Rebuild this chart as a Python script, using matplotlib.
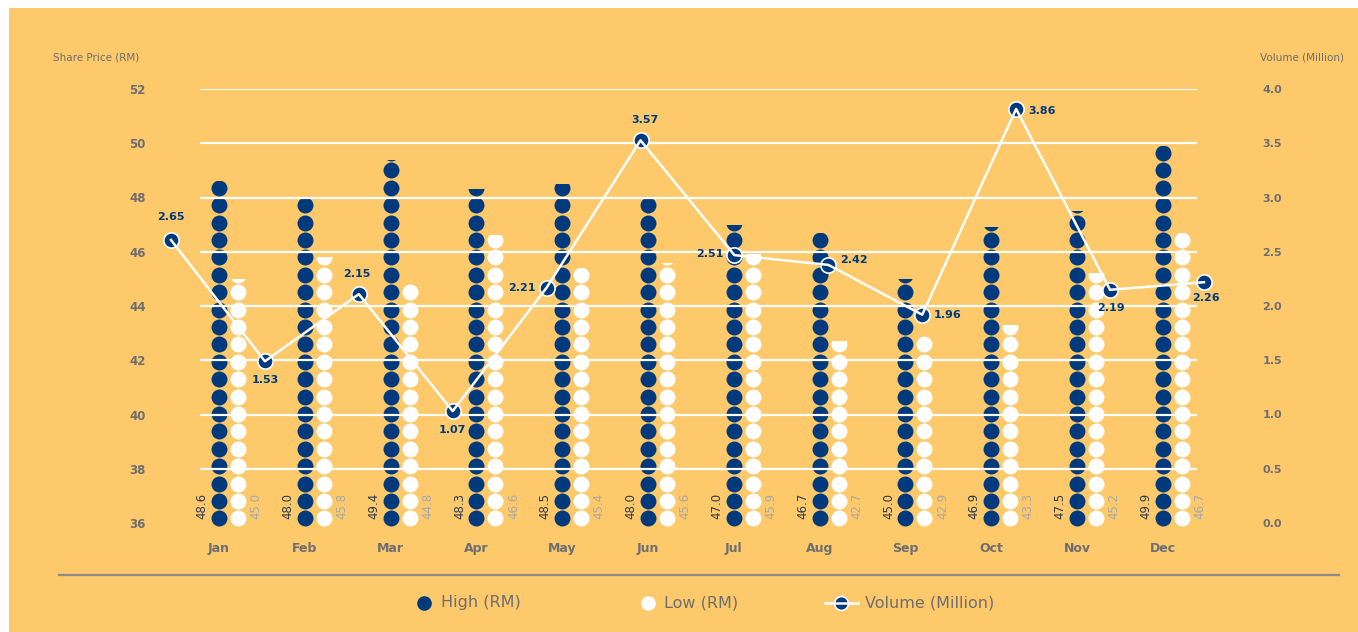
import numpy as np
import matplotlib
matplotlib.use("Agg")
import matplotlib.pyplot as plt
from matplotlib.patches import Rectangle

months = ["Jan", "Feb", "Mar", "Apr", "May", "Jun",
          "Jul", "Aug", "Sep", "Oct", "Nov", "Dec"]
high = [48.6, 48.0, 49.4, 48.3, 48.5, 48.0, 47.0, 46.7, 45.0, 46.9, 47.5, 49.9]
low = [45.0, 45.8, 44.8, 46.6, 45.4, 45.6, 45.9, 42.7, 42.9, 43.3, 45.2, 46.7]
volume = [2.65, 1.53, 2.15, 1.07, 2.21, 3.57, 2.51, 2.42, 1.96, 3.86, 2.19, 2.26]

# where each volume label sits relative to its marker (pixels, y up)
vol_offsets = [(0, 23), (0, -19), (-2, 20), (0, -19), (-25, 0), (4, 20),
               (-25, 1), (26, 5), (25, 0), (26, -2), (1, -18), (2, -16)]

BG = "#FDC96B"
NAVY = "#003A7D"
GRAY = "#6D6E71"
LIGHT = "#A8A8A8"
DARK = "#2E3A4C"

W, H = 1358, 632
fig = plt.figure(figsize=(W / 100, H / 100), dpi=100, facecolor="white")


def px_rect(l, t, r, b):
    return [l / W, 1 - b / H, (r - l) / W, (b - t) / H]


# background panel, separator and legend
bg = fig.add_axes([0, 0, 1, 1], zorder=-1)
bg.set_xlim(0, W)
bg.set_ylim(H, 0)
bg.axis("off")
bg.add_patch(Rectangle((9, 8), W - 9, H - 8, color=BG, lw=0))
bg.plot([59, 1339], [575, 575], color="#8C8C8C", lw=1.6)

bg.plot(424, 603, "o", ms=9.5, color=NAVY)
bg.text(441, 603, "High (RM)", va="center", fontsize=11.5, color=GRAY)
bg.plot(648, 603, "o", ms=9.5, color="white")
bg.text(664, 603, "Low (RM)", va="center", fontsize=11.5, color=GRAY)
bg.plot([825, 858], [603, 603], color="white", lw=1.8, zorder=3)
bg.plot(841, 603, "o", ms=10, mfc=NAVY, mec="white", mew=1.2, zorder=2)
bg.text(865, 603, "Volume (Million)", va="center", fontsize=11.5, color=GRAY)

# share price pictograph
ax = fig.add_axes(px_rect(200, 89, 1197, 523))
ax.patch.set_alpha(0)
for s in ax.spines.values():
    s.set_visible(False)
ax.set_ylim(36, 52)
ax.set_xlim(-0.332, 11.288)

yt = np.arange(36, 53, 2)
ax.set_yticks(yt, [str(v) for v in yt], fontweight="bold")
ax.tick_params(axis="y", length=0, pad=39, labelsize=8.5, labelcolor=GRAY)
ax.hlines(yt[1:], *ax.get_xlim(), colors="white", lw=1.6, zorder=3)

x = np.arange(len(months))
d = 0.111
ax.set_xticks(x - d, months, fontweight="bold")
ax.tick_params(axis="x", length=0, pad=14, labelsize=9, labelcolor=GRAY)

step = 0.6415
base = 36.166


def dot_column(xc, value, color):
    n = int(np.ceil((value - base) / step)) + 1
    ys = base + step * np.arange(n)
    sc = ax.scatter(np.full(n, xc), ys, s=132, color=color, linewidths=0, zorder=2)
    sc.set_clip_path(Rectangle((xc - 0.5, 35), 1.0, value - 35, transform=ax.transData))


for i in range(len(months)):
    dot_column(x[i] - d, high[i], NAVY)
    dot_column(x[i] + d, low[i], "white")
    ax.annotate(f"{high[i]:.1f}", (x[i] - d, 36), xytext=(-12.2, 2.9),
                textcoords="offset points", rotation=90, ha="center", va="bottom",
                fontsize=8.5, color=DARK, annotation_clip=False)
    ax.annotate(f"{low[i]:.1f}", (x[i] + d, 36), xytext=(13, 2.9),
                textcoords="offset points", rotation=90, ha="center", va="bottom",
                fontsize=8.5, color=LIGHT, annotation_clip=False)

sec = ax.secondary_yaxis("right", functions=(lambda p: (p - 36) / 4, lambda v: v * 4 + 36))
vt = np.arange(0, 4.01, 0.5)
sec.set_yticks(vt, [f"{v:.1f}" for v in vt], fontweight="bold")
sec.tick_params(length=0, pad=47, labelsize=8, labelcolor=GRAY)
for s in sec.spines.values():
    s.set_visible(False)

fig.text(53 / W, 1 - 58 / H, "Share Price (RM)", va="center", fontsize=7.5, color=GRAY)
fig.text(1260 / W, 1 - 58 / H, "Volume (Million)", va="center", fontsize=7.5, color=GRAY)

# volume line
ax2 = fig.add_axes(px_rect(200, 89, 1197, 523))
ax2.axis("off")
ax2.set_xlim(0.3088, 10.926)
ax2.set_ylim(0.0369, 4.044)
ax2.plot(x, volume, ls="none", marker="o", ms=11, mfc=NAVY, mec="white", mew=1.2,
         zorder=3, clip_on=False)
ax2.plot(x, volume, color="white", lw=1.8, zorder=4, clip_on=False)
for i, v in enumerate(volume):
    dx, dy = vol_offsets[i]
    ax2.annotate(f"{v:.2f}", (x[i], v), xytext=(dx * 0.72, dy * 0.72),
                 textcoords="offset points", ha="center", va="center",
                 fontsize=8, fontweight="bold", color=NAVY, annotation_clip=False)

fig.savefig("out.png", dpi=100, facecolor=fig.get_facecolor())
